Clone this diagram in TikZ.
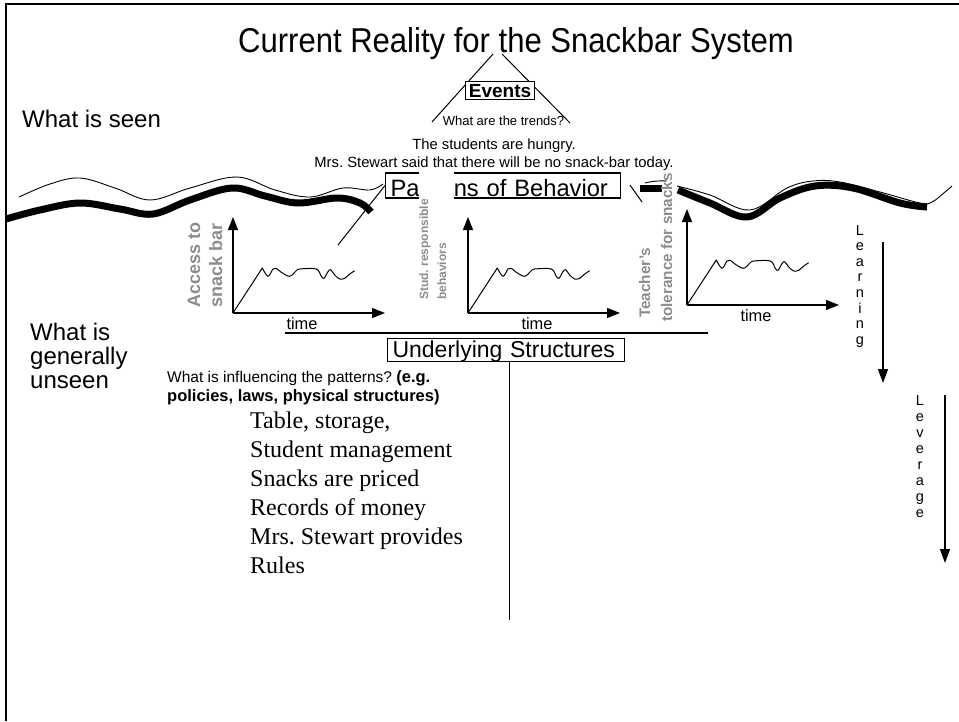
\documentclass[tikz,border=0pt]{standalone}
\usepackage{fontspec}
\setmainfont{Liberation Sans}
\newfontfamily\timesfont{Liberation Serif}
\newfontfamily\narrowfont[FakeStretch=0.9]{Liberation Sans}
\usetikzlibrary{arrows.meta}
\newcommand\setfs[1]{\fontsize{#1}{#1}\selectfont}
\frenchspacing

\tikzset{
  slideframe/.style={line width=2.5pt},
  thickwave/.style={line width=7pt, line cap=butt, line join=round},
  thinwave/.style={line width=0.9pt},
  thinline/.style={line width=1pt},
  axisarrow/.style={line width=1.3pt, -{Triangle[length=13pt,width=10pt]}},
  downarrow/.style={line width=1.3pt, -{Triangle[length=14pt,width=10pt]}},
  trendline/.style={line width=1pt, line join=round},
  boxed/.style={draw, line width=1.1pt, fill=white, inner ysep=0pt},
  plain/.style={inner sep=0pt, anchor=base},
  plainw/.style={inner sep=0pt, anchor=base west},
  sidelabel/.style={rotate=90, inner sep=0pt, anchor=base west, text=black!45},
  letter/.style={inner sep=0pt, anchor=base, font=\setfs{14.5}},
  listitem/.style={inner sep=0pt, anchor=base west, font=\timesfont\setfs{24}},
  trendgraph/.pic={
    \coordinate (-o) at (0,0);
    \coordinate (-y) at (0,-96);
    \coordinate (-x) at (152,0);
    \draw[axisarrow] (-o) -- (-y);
    \draw[axisarrow] (-o) -- (-x);
    \draw[trendline] (-o) -- plot[smooth, tension=0.55] coordinates {
      (29.3,-45) (35,-36.7) (40,-44) (43.3,-44.7) (48.3,-40.7) (56.7,-36.7)
      (63.3,-42.3) (66.7,-44) (83.3,-44) (88.3,-36.7) (91,-34.7) (95,-41.3)
      (97.7,-43.3) (101.7,-38) (106.7,-34) (111.7,-34.7) (116.7,-39) (121.7,-42.3)};
    \node[plain, font=\setfs{16.4}] (-time) at (69,16.5) {time};
  }
}

\begin{document}
\begin{tikzpicture}[x=1pt, y=-1pt]
\useasboundingbox (0,0) rectangle (959,721);

% slide frame
\draw[slideframe] (6,721) -- (6,4) -- (959,4);

% water line: thin and thick waves
\draw[thinwave] plot[smooth, tension=0.6] coordinates {
  (19,197) (50,184) (80,178) (115,188) (150,200) (190,188) (237,177)
  (275,190) (310,197) (343,188) (370,190) (383,184)};
\draw[thickwave] plot[smooth, tension=0.6] coordinates {
  (6,219) (40,210) (80,203) (120,209) (153,214) (190,200) (232,188)
  (265,196) (298,203) (337,198) (360,203) (371,212)};
\draw[thinwave] plot[smooth, tension=0.6] coordinates {
  (677,186) (710,195) (750,210) (787,188) (813,181) (840,182) (880,192)
  (920,203) (932,202) (945,192) (952,186)};
\draw[thickwave] plot[smooth, tension=0.6] coordinates {
  (678,190) (710,203) (747,217) (780,198) (815,186) (853,188) (900,203) (927,207)};
\fill (640,185) rectangle (662,192);
\draw[thinwave] (645,183) to[bend left=8] (667,181);

% title and the events triangle
\coordinate (apexL) at (493,54);
\coordinate (apexR) at (502,54);
\coordinate (footL) at (432,122);
\coordinate (footR) at (570,123);
\draw[thinline] (apexL) -- (footL);
\draw[thinline] (apexR) -- (footR);
\node[plain, font=\narrowfont\setfs{34.5}] (title) at (516,52) {Current Reality for the Snackbar System};
\node[boxed, anchor=base, inner xsep=3pt, text height=16pt, text depth=2pt,
      font=\bfseries\setfs{19}] (events) at (500,97.3) {Events};
\node[plain, font=\setfs{13}] (trends) at (503.5,125.7) {What are the trends?};
\node[plain, font=\setfs{14.8}] (hungry) at (494,149) {The students are hungry.};
\node[plain, font=\setfs{14.8}] (stewart) at (494,167.5) {Mrs. Stewart said that there will be no snack-bar today.};

\node[plainw, font=\setfs{24}] (seen) at (22,127) {What is seen};

% patterns of behavior
\node[boxed, anchor=base west, inner xsep=5pt, text height=23pt, text depth=2pt,
      text width=225pt, font=\setfs{23.7}] (pat) at (385,196) {Patterns of Behavior};
\coordinate (patfoot) at (338,245);
\draw[thinline] (pat.west) -- (patfoot);
\coordinate (slash1) at (630,185);
\coordinate (slash2) at (642,202);
\draw[thinline] (slash1) -- (slash2);
\fill[white] (419,169) rectangle (454,202);

% the three trend graphs
\pic (g1) at (233,313) {trendgraph};
\pic (g2) at (468,313) {trendgraph};
\pic (g3) at (687,305) {trendgraph};
\node[sidelabel, font=\bfseries\setfs{18}] (acc1) at (200,308) {Access to};
\node[sidelabel, font=\bfseries\setfs{18}] (acc2) at (222,308) {snack bar};
\node[sidelabel, font=\bfseries\setfs{12}] (stud1) at (428,300) {Stud. responsible};
\node[sidelabel, font=\bfseries\setfs{12}] (stud2) at (446,300) {behaviors};
\node[sidelabel, font=\bfseries\setfs{15.3}] (tea1) at (650,318) {Teacher's};
\node[sidelabel, font=\bfseries\setfs{15.3}] (tea2) at (672,322) {tolerance for snacks};

% divider and underlying structures
\coordinate (div1) at (285,333);
\coordinate (div2) at (708,333);
\draw[line width=1.3pt] (div1) -- (div2);
\node[boxed, anchor=base west, inner xsep=5pt, text height=19pt, text depth=4pt,
      text width=227pt, font=\setfs{23}] (und) at (387,357.5) {Underlying Structures};
\coordinate (stem) at (509,620);
\draw[thinline] (und.south -| stem) -- (stem);

\node[plainw, font=\setfs{24}] (unseen1) at (30,340) {What is};
\node[plainw, font=\setfs{24}] (unseen2) at (30,364) {generally};
\node[plainw, font=\setfs{24}] (unseen3) at (30,388) {unseen};

\node[plainw, font=\setfs{15.5}] (infl1) at (167,382) {What is influencing the patterns? {\bfseries\setfs{16.5}(e.g.}};
\node[plainw, font=\bfseries\setfs{16.5}] (infl2) at (167,401) {policies, laws, physical structures)};

\node[listitem] (s1) at (250,428) {Table, storage,};
\node[listitem] (s2) at (250,457) {Student management};
\node[listitem] (s3) at (250,486) {Snacks are priced};
\node[listitem] (s4) at (250,515) {Records of money};
\node[listitem] (s5) at (250,544) {Mrs. Stewart provides};
\node[listitem] (s6) at (250,573) {Rules};

% learning and leverage
\foreach \c [count=\k from 0] in {L,e,a,r,n,i,n,g}
  \node[letter] (learn\k) at (860,{235+15.6*\k}) {\c};
\coordinate (lrn1) at (883,242);
\coordinate (lrn2) at (883,383);
\draw[downarrow] (lrn1) -- (lrn2);
\foreach \c [count=\k from 0] in {L,e,v,e,r,a,g,e}
  \node[letter] (lev\k) at (920,{405+16*\k}) {\c};
\coordinate (lev1) at (945,395);
\coordinate (lev2) at (945,563);
\draw[downarrow] (lev1) -- (lev2);
\end{tikzpicture}
\end{document}
